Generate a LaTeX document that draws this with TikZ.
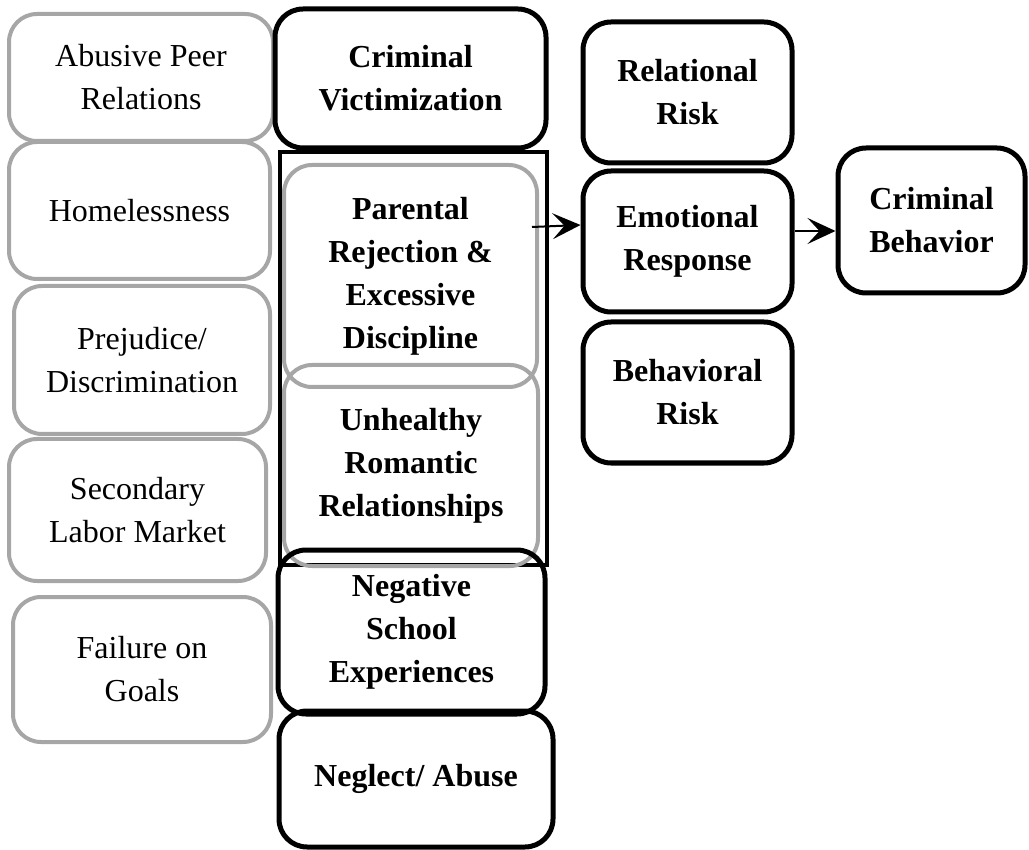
\documentclass[tikz,border=0pt]{standalone}
\usepackage{fontspec}
\setmainfont{Liberation Serif}
\usetikzlibrary{positioning,arrows.meta}

\begin{document}
\begin{tikzpicture}[x=0.5pt, y=-0.5pt]
    \tikzstyle{graybox}=[rectangle, draw=black!35, line width=2pt, rounded corners=14pt, align=center, font=\fontsize{16}{21.5}\selectfont]
    \tikzstyle{blackbox}=[rectangle, draw, line width=2.5pt, rounded corners=14pt, align=center, font=\fontsize{16}{21.5}\selectfont\bfseries]
    \tikzstyle{link}=[-{Stealth[length=14pt,width=13pt,inset=6pt]}, line width=1pt]

    \useasboundingbox (0,0) rectangle (1029,850);

    % left column
    \node[graybox, minimum width=132pt, minimum height=63.5pt] (abuse) at (141,77.5) {Abusive Peer\\Relations};
    \node[graybox, minimum width=130.5pt, minimum height=68.5pt] (homeless) at (139.5,210.5) {Homelessness};
    \node[graybox, minimum width=128pt, minimum height=74pt] (prejudice) at (142,360) {Prejudice/\\Discrimination};
    \node[graybox, minimum width=128.5pt, minimum height=71pt] (labor) at (137.5,510) {Secondary\\Labor Market};
    \node[graybox, minimum width=129pt, minimum height=72.5pt] (failure) at (142,669.5) {Failure on\\Goals};

    % middle column
    \node[draw, line width=1.75pt, minimum width=133.5pt, minimum height=206.5pt] (frame) at (413.5,358.5) {};
    \node[blackbox, minimum width=135.5pt, minimum height=69.5pt] (victim) at (410.5,78.5) {Criminal\\Victimization};
    \node[graybox, font=\fontsize{16}{21.5}\selectfont\bfseries, minimum width=126.5pt, minimum height=111pt] (parental) at (410.5,276) {Parental\\Rejection \&\\Excessive\\Discipline};
    \node[graybox, font=\fontsize{16}{21.5}\selectfont\bfseries, minimum width=127pt, minimum height=100.5pt] (romantic) at (411,465.5) {Unhealthy\\Romantic\\Relationships};
    \node[blackbox, minimum width=133.5pt, minimum height=82pt] (school) at (411.5,632) {Negative\\School\\Experiences};
    \node[blackbox, minimum width=137pt, minimum height=68pt] (neglect) at (416,779) {Neglect/ Abuse};

    % right columns
    \node[blackbox, minimum width=104.5pt, minimum height=70.5pt] (relational) at (687.5,92.5) {Relational\\Risk};
    \node[blackbox, minimum width=104.5pt, minimum height=70.5pt, below=1.5pt of relational] (emotional) {Emotional\\Response};
    \node[blackbox, minimum width=104.5pt, minimum height=70.5pt, below=2.5pt of emotional] (behavioral) {Behavioral\\Risk};
    \node[blackbox, minimum width=93.5pt, minimum height=72.5pt] (crimbeh) at (931.5,220.5) {Criminal\\Behavior};

    \coordinate (pstart) at (532,227);
    \draw[link] (pstart) -- ([yshift=8.25pt]emotional.west);
    \draw[link] (emotional.east) ++(0,-10.5) coordinate (estart) -- (estart -| crimbeh.west);
\end{tikzpicture}
\end{document}
